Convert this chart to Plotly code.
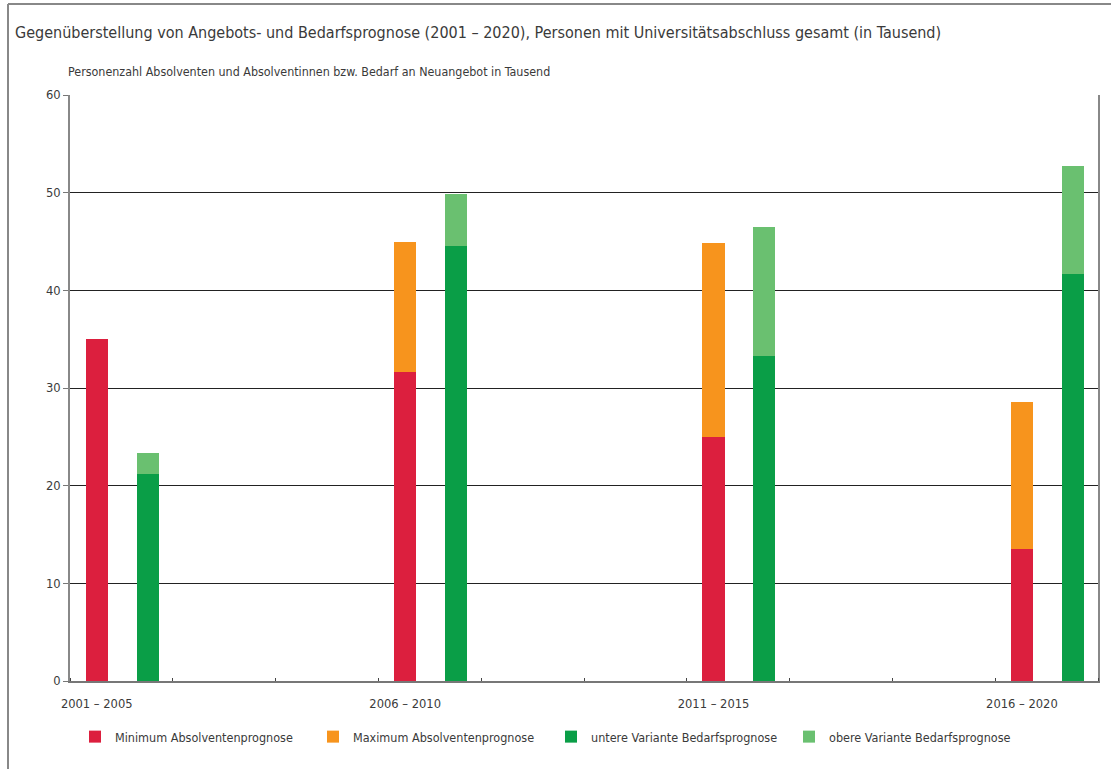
import plotly.graph_objects as go

# ---- data ----
categories = ["2001 – 2005", "2006 – 2010", "2011 – 2015", "2016 – 2020"]
min_absolventen = [35.0, 31.6, 25.0, 13.5]
max_absolventen = [35.0, 45.0, 44.8, 28.6]
untere_bedarf = [21.2, 44.5, 33.3, 41.7]
obere_bedarf = [23.3, 49.9, 46.5, 52.7]
y_ticks = [0, 10, 20, 30, 40, 50, 60]

series_names = ["Minimum Absolventenprognose", "Maximum Absolventenprognose",
                "untere Variante Bedarfsprognose", "obere Variante Bedarfsprognose"]
colors = ["#DC1F3E", "#F7941D", "#0A9E47", "#6AC070"]

# ---- layout constants ----
W, H = 1111, 769
ML, MR, MT, MB = 70, 13, 95, 88
PW, PH = W - ML - MR, H - MT - MB
FONT = "Liberation Sans Narrow, DejaVu Sans Condensed, Arial Narrow, sans-serif"
TXT = "#3a3a3a"

slot = 3  # slots per category on the axis (10 slots total)
x_red = [i * slot + 0.26 for i in range(len(categories))]
x_green = [i * slot + 0.755 for i in range(len(categories))]
bw = 0.215

orange_seg = [mx - mn for mx, mn in zip(max_absolventen, min_absolventen)]
light_seg = [o - u for o, u in zip(obere_bedarf, untere_bedarf)]

fig = go.Figure()
fig.add_bar(x=x_red, y=min_absolventen, width=bw, name=series_names[0],
            marker=dict(color=colors[0], line=dict(width=0)))
fig.add_bar(x=x_red, y=orange_seg, width=bw, name=series_names[1],
            marker=dict(color=colors[1], line=dict(width=0)))
fig.add_bar(x=x_green, y=untere_bedarf, width=bw, name=series_names[2],
            marker=dict(color=colors[2], line=dict(width=0)))
fig.add_bar(x=x_green, y=light_seg, width=bw, name=series_names[3],
            marker=dict(color=colors[3], line=dict(width=0)))


def px_x(p):
    return (p - ML) / PW


def px_y(p):
    return 1 - (p - MT) / PH


fig.update_layout(
    width=W, height=H,
    margin=dict(l=ML, r=MR, t=MT, b=MB, autoexpand=False),
    paper_bgcolor="white", plot_bgcolor="white",
    barmode="stack",
    font=dict(family=FONT, size=12.5, color=TXT),
    showlegend=True,
    legend=dict(orientation="h", x=px_x(75), xanchor="left", y=px_y(737), yanchor="middle",
                font=dict(size=12.5, color=TXT), entrywidth=193, entrywidthmode="pixels",
                traceorder="normal", bgcolor="rgba(0,0,0,0)"),
    xaxis=dict(range=[0, 10], tickmode="array", tickvals=x_red, ticktext=categories,
               ticks="", showgrid=False, zeroline=False, ticklabelstandoff=10,
               showline=True, linecolor="#777777", linewidth=1.5, mirror=False,
               tickfont=dict(size=12.8, color=TXT),
               minor=dict(tickmode="linear", tick0=0, dtick=1, ticks="inside",
                          ticklen=3, tickcolor="#444444", tickwidth=1, showgrid=False)),
    yaxis=dict(range=[0, 60], tickmode="array", tickvals=y_ticks,
               ticks="outside", ticklen=5, tickcolor="#777777", tickwidth=1,
               showgrid=True, gridcolor="#222222", gridwidth=1, zeroline=False,
               showline=True, linecolor="#888888", linewidth=1.5, mirror=True,
               tickfont=dict(size=12.8, color=TXT)),
    annotations=[
        dict(text="Gegenüberstellung von Angebots- und Bedarfsprognose (2001 – 2020), "
                  "Personen mit Universitätsabschluss gesamt (in Tausend)",
             xref="paper", yref="paper", x=px_x(13), y=px_y(33), xanchor="left",
             yanchor="middle", showarrow=False, font=dict(size=16, color=TXT)),
        dict(text="Personenzahl Absolventen und Absolventinnen bzw. Bedarf an Neuangebot in Tausend",
             xref="paper", yref="paper", x=px_x(66), y=px_y(72), xanchor="left",
             yanchor="middle", showarrow=False, font=dict(size=12.4, color=TXT)),
    ],
    shapes=[
        dict(type="line", xref="paper", yref="paper", x0=px_x(8), x1=px_x(W + 5),
             y0=px_y(4), y1=px_y(4), line=dict(color="#888888", width=2)),
        dict(type="line", xref="paper", yref="paper", x0=px_x(8), x1=px_x(8),
             y0=px_y(4), y1=px_y(H + 5), line=dict(color="#888888", width=2)),
    ],
)

fig.write_html("out.html", config={"displayModeBar": False},
               post_script="document.body.style.margin='0px';")
